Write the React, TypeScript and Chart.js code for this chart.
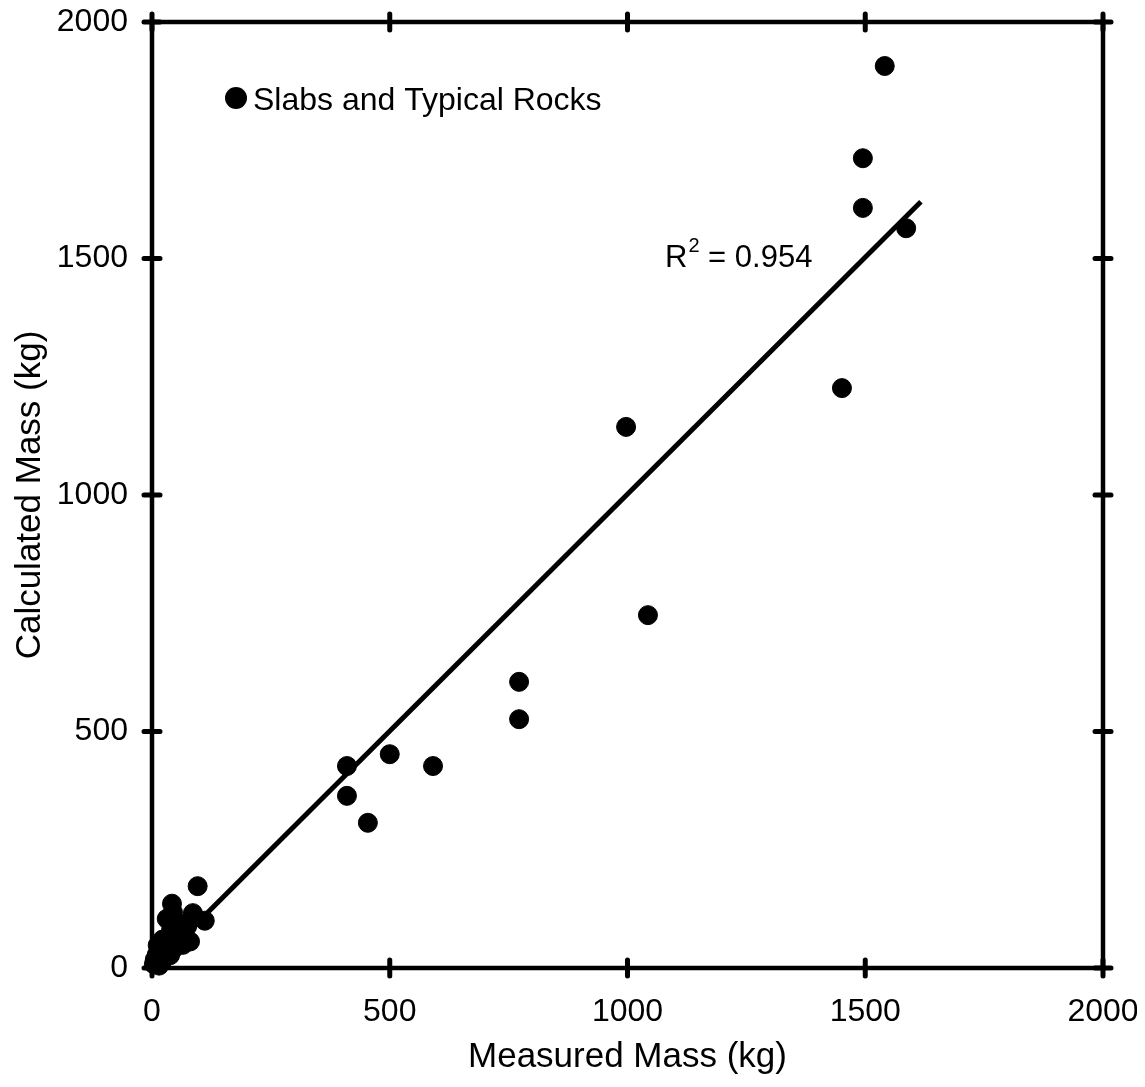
import React, { useEffect, useRef } from "react";
import { Chart, registerables } from "chart.js";

Chart.register(...registerables);

// Measured vs calculated mass (kg) for slabs and typical rocks
const measuredMass: number[] = [
  1541, 1495, 1495, 1586, 1451, 997, 1043, 772, 772, 500, 591, 410, 410, 454,
  96, 42, 44, 31, 86, 111, 74, 62, 80, 52, 40, 27, 17, 22, 10, 6, 12, 4, 30, 45, 65, 38, 20, 15,
];
const calculatedMass: number[] = [
  1907, 1712, 1607, 1564, 1226, 1144, 746, 605, 526, 452, 427, 427, 364, 307,
  173, 136, 118, 104, 116, 100, 88, 94, 56, 66, 80, 53, 38, 60, 28, 18, 48, 8, 30, 40, 49, 27, 12, 5,
];

// Least-squares fit line end points
const fitX: number[] = [0, 1617];
const fitY: number[] = [0, 1620];

const axisTicks: number[] = [0, 500, 1000, 1500, 2000];
const seriesLabel = "Slabs and Typical Rocks";
const rSquared = "0.954";

const FONT = "'Liberation Sans', Arial, Helvetica, sans-serif";

const framePlugin = {
  id: "frameAndNotes",
  afterDraw(chart: any) {
    const { ctx, chartArea } = chart;
    const { left, right, top, bottom } = chartArea;
    const xs = chart.scales.x;
    const ys = chart.scales.y;
    ctx.save();
    ctx.strokeStyle = "#000";
    ctx.lineWidth = 4.5;
    ctx.lineCap = "butt";
    ctx.strokeRect(left, top, right - left, bottom - top);

    // tick marks crossing the frame on all four sides
    ctx.lineWidth = 5;
    ctx.lineCap = "round";
    const t = 8;
    ctx.beginPath();
    for (const v of axisTicks) {
      const px = xs.getPixelForValue(v);
      ctx.moveTo(px, top - t);
      ctx.lineTo(px, top + t);
      ctx.moveTo(px, bottom - t);
      ctx.lineTo(px, bottom + t);
      const py = ys.getPixelForValue(v);
      ctx.moveTo(left - t, py);
      ctx.lineTo(left + t, py);
      ctx.moveTo(right - t, py);
      ctx.lineTo(right + t, py);
    }
    ctx.stroke();

    // legend entry
    ctx.fillStyle = "#000";
    ctx.beginPath();
    ctx.arc(228, 90, 11, 0, Math.PI * 2);
    ctx.fill();
    ctx.font = `32px ${FONT}`;
    ctx.textBaseline = "alphabetic";
    ctx.textAlign = "left";
    ctx.fillText(seriesLabel, 245, 102);

    // coefficient of determination
    ctx.font = `31px ${FONT}`;
    const rx = 657;
    const ry = 259;
    ctx.fillText("R", rx, ry);
    const rw = ctx.measureText("R").width;
    ctx.font = `20px ${FONT}`;
    ctx.fillText("2", rx + rw + 1, ry - 15);
    const sw = ctx.measureText("2").width;
    ctx.font = `31px ${FONT}`;
    ctx.fillText(" = " + rSquared, rx + rw + sw + 1, ry);
    ctx.restore();
  },
};

export default function App() {
  const ref = useRef<HTMLCanvasElement | null>(null);

  useEffect(() => {
    if (!ref.current) return;
    const points = measuredMass.map((x, i) => ({ x, y: calculatedMass[i] }));
    const fit = fitX.map((x, i) => ({ x, y: fitY[i] }));
    const chart = new Chart(ref.current, {
      type: "scatter",
      data: {
        datasets: [
          {
            label: seriesLabel,
            data: points,
            backgroundColor: "#000",
            borderColor: "#000",
            pointRadius: 9.5,
            pointHoverRadius: 9.5,
            clip: false,
          },
          {
            type: "line",
            label: "fit",
            data: fit,
            borderColor: "#000",
            borderWidth: 5,
            pointRadius: 0,
            fill: false,
            clip: false,
          } as any,
        ],
      },
      plugins: [framePlugin],
      options: {
        animation: false,
        responsive: false,
        devicePixelRatio: 1,
        layout: { padding: { left: 0, top: 14, right: 34, bottom: 0 } },
        plugins: { legend: { display: false }, tooltip: { enabled: false } },
        scales: {
          x: {
            type: "linear",
            min: 0,
            max: 2000,
            afterFit: (s: any) => {
              s.height = 111;
              s.paddingLeft = 0;
              s.paddingRight = 0;
            },
            afterBuildTicks: (s: any) => {
              s.ticks = axisTicks.map((v) => ({ value: v }));
            },
            grid: { display: false, drawTicks: false },
            border: { display: false },
            ticks: {
              color: "#000",
              padding: 25,
              maxRotation: 0,
              font: { family: FONT, size: 32 },
              callback: (v: any) => String(v),
            },
            title: {
              display: true,
              text: "Measured Mass (kg)",
              color: "#000",
              padding: { top: 0, bottom: 1 },
              font: { family: FONT, size: 35 },
            },
          },
          y: {
            type: "linear",
            min: 0,
            max: 2000,
            afterFit: (s: any) => {
              s.width = 144;
              s.paddingTop = 0;
              s.paddingBottom = 0;
            },
            afterBuildTicks: (s: any) => {
              s.ticks = axisTicks.map((v) => ({ value: v }));
            },
            grid: { display: false, drawTicks: false },
            border: { display: false },
            ticks: {
              color: "#000",
              padding: 24,
              font: { family: FONT, size: 32 },
              callback: (v: any) => String(v),
            },
            title: {
              display: true,
              text: "Calculated Mass (kg)",
              color: "#000",
              padding: { top: 1, bottom: 0 },
              font: { family: FONT, size: 35 },
            },
          },
        },
      },
    });
    return () => chart.destroy();
  }, []);

  return (
    <canvas
      ref={ref}
      width={1129}
      height={1071}
      style={{ display: "block", width: 1129, height: 1071 }}
    />
  );
}
